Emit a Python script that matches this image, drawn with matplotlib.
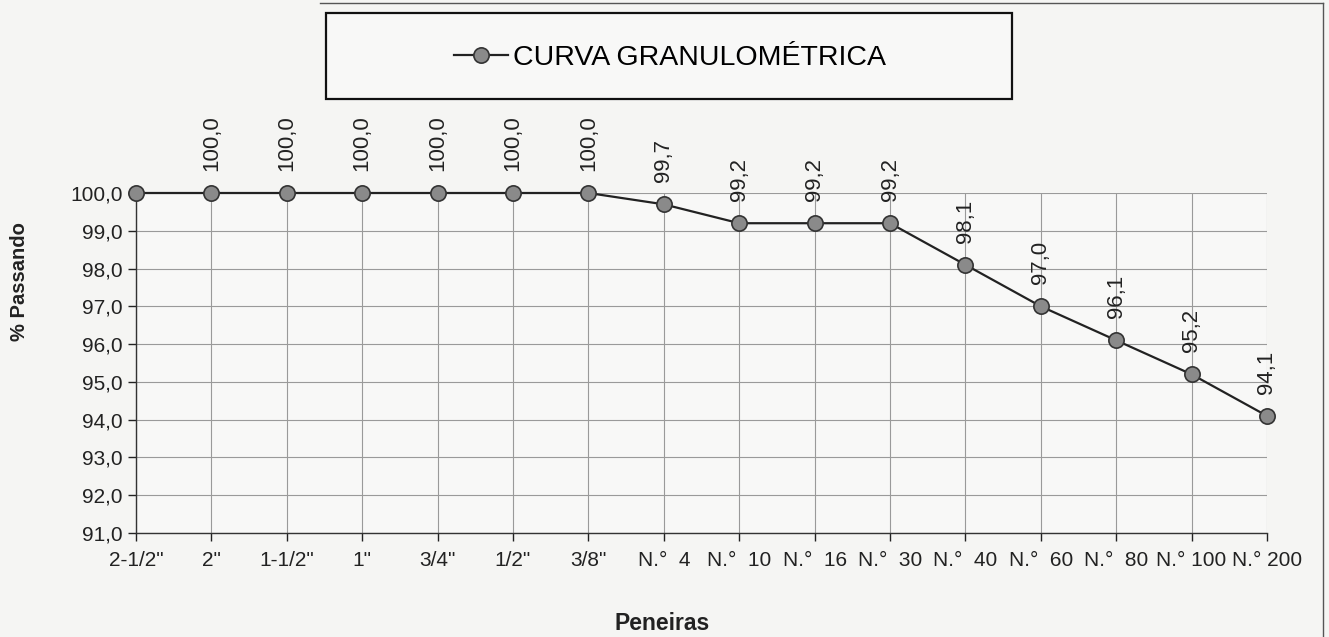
import matplotlib
matplotlib.use("Agg")
import matplotlib.pyplot as plt
from matplotlib.lines import Line2D
from matplotlib.patches import Rectangle

plt.rcParams['font.family'] = ['Liberation Sans', 'DejaVu Sans']

peneiras = ['2-1/2"', '2"', '1-1/2"', '1"', '3/4"', '1/2"', '3/8"',
            'N.°  4', 'N.°  10', 'N.°  16', 'N.°  30', 'N.°  40',
            'N.°  60', 'N.°  80', 'N.° 100', 'N.° 200']
passando = [100.0, 100.0, 100.0, 100.0, 100.0, 100.0, 100.0, 99.7,
            99.2, 99.2, 99.2, 98.1, 97.0, 96.1, 95.2, 94.1]
yticks = [91, 92, 93, 94, 95, 96, 97, 98, 99, 100]
serie = 'CURVA GRANULOMÉTRICA'

W, H = 1329, 637
fig = plt.figure(figsize=(W / 100, H / 100), dpi=100)
fig.patch.set_facecolor('#f5f5f3')
ax = fig.add_axes([136 / W, 1 - 533 / H, (1267 - 136) / W, (533 - 193) / H])
ax.set_facecolor('#f8f8f7')

x = list(range(len(peneiras)))
ax.plot(x, passando, color='#222222', lw=1.6, marker='o', ms=11,
        mfc='#8a8a8a', mec='#333333', mew=1.2, zorder=5, clip_on=False)

# the first point carries no data label in the original
for xi, v in list(zip(x, passando))[1:]:
    ax.annotate(f'{v:.1f}'.replace('.', ','), (xi, v), xytext=(0, 16),
                textcoords='offset points', rotation=90, ha='center',
                va='bottom', fontsize=16, color='#222222')

ax.set_xlim(0, len(peneiras) - 1)
ax.set_ylim(91, 100)
ax.set_yticks(yticks)
ax.set_yticklabels([f'{t:.1f}'.replace('.', ',') for t in yticks])
ax.set_xticks(x)
ax.set_xticklabels(peneiras)
ax.tick_params(axis='both', labelsize=15, colors='#222222', direction='out',
               length=6, width=1)
ax.tick_params(axis='x', pad=7)
ax.grid(True, color='#9a9a9a', lw=0.8)
ax.set_axisbelow(True)
for s in ['top', 'right']:
    ax.spines[s].set_visible(False)
for s in ['left', 'bottom']:
    ax.spines[s].set_color('#333333')
    ax.spines[s].set_linewidth(1.0)

fig.text(20 / W, 1 - 282 / H, '% Passando', rotation=90, ha='center',
         va='center', fontsize=14.5, fontweight='bold', color='#222222')
fig.text(662 / W, 1 - 623 / H, 'Peneiras', ha='center', va='center',
         fontsize=16.5, fontweight='bold', color='#222222')

# legend frame
fig.add_artist(Rectangle((326 / W, 1 - 99 / H), (1012 - 326) / W, (99 - 13) / H,
                         transform=fig.transFigure, facecolor='#f8f8f7',
                         edgecolor='#111111', lw=1.6, zorder=1))
handle = Line2D([], [], color='#222222', lw=1.6, marker='o', ms=11,
                mfc='#8a8a8a', mec='#333333', mew=1.2)
leg = fig.legend([handle], [serie], loc='center',
                 bbox_to_anchor=(670 / W, 1 - 58 / H),
                 fontsize=20.5, frameon=False,
                 handlelength=1.9, handletextpad=0.15)
leg.set_zorder(3)

# chart frame (top and right edges)
fig.add_artist(Line2D([320 / W, 1323 / W], [1 - 3 / H, 1 - 3 / H], color='#555555', lw=1,
                      transform=fig.transFigure))
fig.add_artist(Line2D([1323 / W, 1323 / W], [0, 1 - 3 / H], color='#555555', lw=1,
                      transform=fig.transFigure))

fig.savefig('out.png', dpi=100, facecolor=fig.get_facecolor())
